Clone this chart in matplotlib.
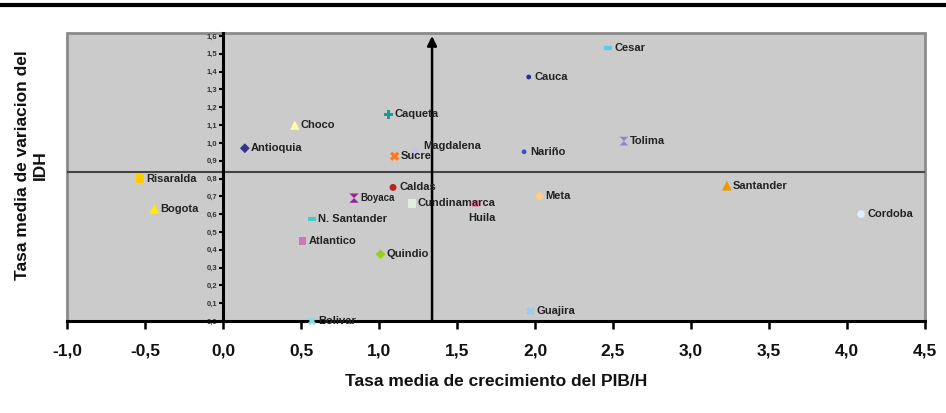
import matplotlib
matplotlib.use("Agg")
import matplotlib.pyplot as plt
from matplotlib.lines import Line2D
from matplotlib.patches import Rectangle
from matplotlib import font_manager
import numpy as np

plt.rcParams['font.family'] = ['Liberation Sans', 'DejaVu Sans']

names = ["Cesar", "Cauca", "Caqueta", "Choco", "Antioquia", "Magdalena", "Sucre",
         "Nariño", "Tolima", "Risaralda", "Bogota", "Caldas", "Boyaca", "Cundinamarca",
         "Huila", "N. Santander", "Atlantico", "Quindio", "Meta", "Santander",
         "Cordoba", "Guajira", "Bolivar"]
pib = [2.47, 1.96, 1.06, 0.46, 0.14, 1.23, 1.10,
       1.93, 2.57, -0.53, -0.44, 1.09, 0.84, 1.21,
       1.62, 0.57, 0.51, 1.01, 2.03, 3.23,
       4.09, 1.97, 0.57]
idh = [1.53, 1.37, 1.16, 1.10, 0.97, 0.95, 0.925,
       0.95, 1.01, 0.80, 0.63, 0.75, 0.69, 0.66,
       0.66, 0.57, 0.45, 0.375, 0.70, 0.76,
       0.60, 0.055, 0.0]
mean_pib = 1.34
mean_idh = 0.836

xticks = [-1.0, -0.5, 0.0, 0.5, 1.0, 1.5, 2.0, 2.5, 3.0, 3.5, 4.0, 4.5]
yticks = [round(0.1 * i, 1) for i in range(17)]

avail = {f.name for f in font_manager.fontManager.ttflist}
narrow = ['Liberation Sans Narrow'] if 'Liberation Sans Narrow' in avail else []
tick_family = narrow + ['Liberation Sans', 'DejaVu Sans']

hourglass = [(-1, 1), (1, 1), (-1, -1), (1, -1), (-1, 1)]
styles = {
    "Cesar": ('_', '#55ccee', 40),
    "Cauca": ('o', '#2a2a9a', 12),
    "Caqueta": ('P', '#1a9a9a', 40),
    "Choco": ('^', '#ffffaa', 45),
    "Antioquia": ('D', '#33338a', 25),
    "Magdalena": ('o', '#ccbbee', 25),
    "Sucre": ('X', '#ff7722', 45),
    "Nariño": ('o', '#3355cc', 12),
    "Tolima": (hourglass, '#8888cc', 40),
    "Risaralda": ('s', '#ffcc00', 35),
    "Bogota": ('^', '#ffee00', 50),
    "Caldas": ('o', '#bb2222', 25),
    "Boyaca": (hourglass, '#992299', 45),
    "Cundinamarca": ('s', '#ddeedd', 35),
    "Huila": ('s', '#ee88aa', 25),
    "N. Santander": ('_', '#44cccc', 40),
    "Atlantico": ('s', '#cc77bb', 30),
    "Quindio": ('D', '#99cc22', 25),
    "Meta": ('D', '#ffcc88', 25),
    "Santander": ('^', '#ee9900', 50),
    "Cordoba": ('o', '#ddeeff', 30),
    "Guajira": ('X', '#99ccee', 35),
    "Bolivar": ('X', '#88dddd', 35),
}
offsets = {"Magdalena": (8, 6), "Huila": (-7, -15)}

fig = plt.figure(figsize=(9.46, 4.13), dpi=100)
ax = fig.add_axes([67/946, 1-321/413, (925-67)/946, (321-33)/413])
ax.set_facecolor('#cbcbcb')
ax.set_xlim(-1.0, 4.5)
ax.set_ylim(0.0, 1.617)

for n, x, y in zip(names, pib, idh):
    m, c, s = styles[n]
    lw = 3 if m == '_' else 0
    ax.scatter([x], [y], marker=m, s=s, c=c, linewidths=lw,
               edgecolors=c if m == '_' else 'none', zorder=4, clip_on=False)
    dx, dy = offsets.get(n, (6, 0))
    fs = 7.0 if n == "Boyaca" else 8.0
    ax.annotate(n, (x, y), xytext=(dx, dy), textcoords='offset pixels',
                fontsize=fs, color='#222222', fontweight='bold', va='center', ha='left', zorder=5)

ax.axhline(mean_idh, color='#444444', lw=1.5, zorder=2)
ax.annotate('', xy=(mean_pib, 1.6), xytext=(mean_pib, 0.0),
            arrowprops=dict(arrowstyle='-|>', color='black', lw=1.8, mutation_scale=14,
                            shrinkA=0, shrinkB=0), zorder=3)

for side in ['top', 'right']:
    ax.spines[side].set_visible(False)
ax.spines['left'].set_position(('data', 0))
ax.spines['left'].set_linewidth(2.2)
ax.spines['left'].set_color('black')
ax.spines['bottom'].set_linewidth(2.2)
ax.spines['bottom'].set_color('black')
ax.spines['left'].set_zorder(3)

ax.add_patch(Rectangle((0, 0), 1, 1, transform=ax.transAxes, fill=False,
                       ec='#8a8a8a', lw=2.0, zorder=1, clip_on=False))

ax.set_xticks(xticks)
ax.set_xticklabels([f"{v:.1f}".replace('.', ',') for v in xticks],
                   fontsize=12.5, fontweight='bold', color='#111111', family=tick_family)
ax.tick_params(axis='x', direction='out', length=6, width=1.8, pad=10)
ax.set_yticks(yticks)
ax.set_yticklabels([f"{v:.1f}".replace('.', ',') for v in yticks],
                   fontsize=5.5, color='#333333', fontweight='bold')
ax.tick_params(axis='y', direction='out', length=3, width=1.5, pad=1)

ax.set_xlabel("Tasa media de crecimiento del PIB/H", fontsize=12.5, fontweight='bold',
              color='#111111', labelpad=11, family=tick_family)
fig.text(0.033, 0.60, "Tasa media de variacion del\nIDH", rotation=90, ha='center',
         va='center', fontsize=12.5, fontweight='bold', color='#111111',
         multialignment='center', family=tick_family)

fig.add_artist(Line2D([0, 1], [1-5/413, 1-5/413], transform=fig.transFigure,
                      color='black', lw=3))

fig.savefig('out.png', dpi=100)
